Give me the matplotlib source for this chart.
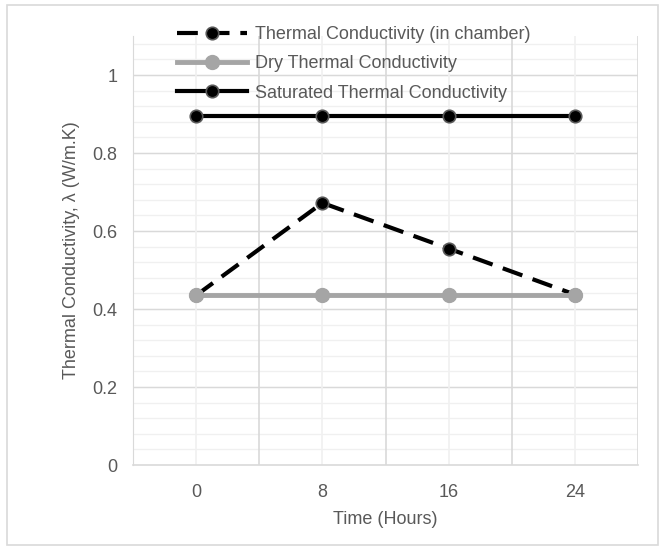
import numpy as np
import matplotlib.pyplot as plt
from matplotlib.patches import Rectangle

plt.rcParams['font.family'] = ['Liberation Sans', 'DejaVu Sans']

# Dados
hours = [0, 8, 16, 24]
k_chamber = [0.435, 0.672, 0.555, 0.437]
k_dry = [0.435, 0.435, 0.435, 0.435]
k_saturated = [0.895, 0.895, 0.895, 0.895]

labels = ['Thermal Conductivity (in chamber)', 'Dry Thermal Conductivity',
          'Saturated Thermal Conductivity']

fs = 13

fig = plt.figure(figsize=(6.59, 5.47), dpi=100)
ax = fig.add_axes([133 / 659, 1 - 465 / 547, (638 - 133) / 659, (465 - 36) / 547])

# Linhas
ax.plot(hours, k_chamber, color='black', lw=3, dashes=(5, 2.6), marker='o', ms=9,
        mfc='black', mec='#595959', mew=1.2, label=labels[0], zorder=3)
ax.plot(hours, k_dry, color='#a5a5a5', lw=3.5, marker='o', ms=10,
        mfc='#a5a5a5', mec='#a5a5a5', label=labels[1], zorder=4)
ax.plot(hours, k_saturated, color='black', lw=3, marker='o', ms=9,
        mfc='black', mec='#595959', mew=1.2, label=labels[2], zorder=5)

# Eixos
ax.set_xlim(-4, 28)
ax.set_ylim(0, 1.1)
ax.set_xticks(hours)
ax.set_yticks([0, 0.2, 0.4, 0.6, 0.8, 1.0])
ax.set_yticklabels(['0', '0.2', '0.4', '0.6', '0.8', '1'])

# Grade
for v in np.arange(0.04, 1.1, 0.04):
    ax.axhline(v, color='#f0f0f0', lw=1, zorder=0)
for v in [0.2, 0.4, 0.6, 0.8, 1.0]:
    ax.axhline(v, color='#d9d9d9', lw=1, zorder=0)
for v in hours:
    ax.axvline(v, color='#f0f0f0', lw=1.2, zorder=0)
for v in [4, 12, 20, 28]:
    ax.axvline(v, color='#d9d9d9', lw=1.2, zorder=0)

ax.tick_params(axis='both', which='both', length=0, labelsize=fs, colors='#595959')
ax.tick_params(axis='x', pad=14)
ax.tick_params(axis='y', pad=11)
for s in ['top', 'right']:
    ax.spines[s].set_visible(False)
ax.spines['left'].set_color('#d9d9d9')
ax.spines['bottom'].set_color('#d9d9d9')
ax.spines['bottom'].set_linewidth(1.2)

ax.set_xlabel('Time (Hours)', fontsize=fs, color='#595959', labelpad=7)
ax.set_ylabel('Thermal Conductivity, λ (W/m.K)', fontsize=fs, color='#595959', labelpad=9)

leg = ax.legend(loc='upper left', bbox_to_anchor=(177 / 659, 1 - 26 / 547),
                bbox_transform=fig.transFigure, frameon=False,
                fontsize=fs, labelcolor='#595959', handlelength=3.9,
                handletextpad=0.4, labelspacing=0.68, borderpad=0, borderaxespad=0)

fig.patches.append(Rectangle((7 / 659, 2 / 547), 651 / 659, 540 / 547,
                             transform=fig.transFigure, fill=False,
                             edgecolor='#d9d9d9', lw=1.2))

fig.savefig('out.png', dpi=100)
